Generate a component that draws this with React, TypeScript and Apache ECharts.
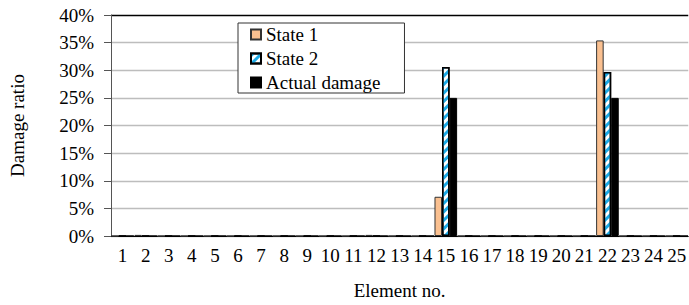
import React, { useEffect, useRef } from "react";
import * as echarts from "echarts";

const categories = ["1","2","3","4","5","6","7","8","9","10","11","12","13","14","15","16","17","18","19","20","21","22","23","24","25"];
const state1 = [0, 0.2, 0, 0, 0, 0, 0, 0, 0, 0, 0, 0.2, 0, 0, 7.1, 0, 0, 0, 0, 0, 0, 35.4, 0, 0, 0];
const state2 = [0, 0, 0, 0, 0, 0, 0, 0, 0, 0, 0, 0, 0, 0, 30.6, 0, 0, 0, 0, 0, 0, 29.7, 0, 0, 0];
const actual = [0, 0, 0, 0, 0, 0, 0, 0, 0, 0, 0, 0, 0, 0, 25, 0, 0, 0, 0, 0, 0, 25, 0, 0, 0];
const seriesNames = ["State 1", "State 2", "Actual damage"];
const yTicks = [0, 5, 10, 15, 20, 25, 30, 35, 40];

const FONT = "'Liberation Serif', 'Times New Roman', serif";

export default function App() {
  const ref = useRef<HTMLDivElement>(null);
  useEffect(() => {
    if (!ref.current) return;
    const chart = echarts.init(ref.current, null, { renderer: "svg" });
    const splitColors = yTicks.map((v, i) => (i === yTicks.length - 1 ? "#000" : "#BDBDBD"));
    chart.setOption({
      animation: false,
      backgroundColor: "#fff",
      textStyle: { fontFamily: FONT, color: "#000" },
      grid: { left: 104, top: 15, width: 587.5, height: 223.7, containLabel: false },
      legend: {
        orient: "vertical",
        left: 238,
        top: 23,
        padding: [2, 24, 1, 12],
        itemGap: 5,
        itemWidth: 10,
        itemHeight: 10,
        icon: "rect",
        borderColor: "#333",
        borderWidth: 1,
        backgroundColor: "#fff",
        textStyle: { fontFamily: FONT, fontSize: 19, color: "#000" },
        data: seriesNames,
      },
      xAxis: {
        type: "category",
        data: categories,
        name: "Element no.",
        nameLocation: "middle",
        nameGap: 45,
        nameTextStyle: { fontFamily: FONT, fontSize: 19, color: "#000" },
        axisLine: { lineStyle: { color: "#000", width: 1 } },
        axisTick: { alignWithLabel: true, length: 5, lineStyle: { color: "#000" } },
        axisLabel: { fontFamily: FONT, fontSize: 19, color: "#000", margin: 10, interval: 0 },
        splitLine: { show: false },
      },
      yAxis: {
        type: "value",
        min: 0,
        max: 40,
        interval: 5,
        name: "Damage ratio",
        nameLocation: "middle",
        nameGap: 84,
        nameRotate: 90,
        nameTextStyle: { fontFamily: FONT, fontSize: 19, color: "#000" },
        axisLine: { show: true, lineStyle: { color: "#555", width: 1 } },
        axisTick: { show: true, length: 7, lineStyle: { color: "#555" } },
        axisLabel: { fontFamily: FONT, fontSize: 19, color: "#000", margin: 17, formatter: "{value}%" },
        splitLine: { show: true, lineStyle: { color: splitColors, width: 1.3 } },
      },
      series: [
        {
          name: seriesNames[0],
          type: "bar",
          data: state1,
          barGap: "0%",
          barCategoryGap: "2%",
          itemStyle: { color: "#FAC090", borderColor: "#333", borderWidth: 1 },
        },
        {
          name: seriesNames[1],
          type: "bar",
          data: state2,
          barGap: "0%",
          barCategoryGap: "2%",
          itemStyle: {
            color: "#fff",
            borderColor: "#000",
            borderWidth: 1.5,
            decal: {
              symbol: "rect",
              symbolSize: 1,
              color: "#1CAAE6",
              dashArrayX: [1, 0],
              dashArrayY: [2.5, 2.5],
              rotation: -Math.PI / 4,
            },
          },
        },
        {
          name: seriesNames[2],
          type: "bar",
          data: actual,
          barGap: "0%",
          barCategoryGap: "2%",
          itemStyle: { color: "#000", borderColor: "#000", borderWidth: 1 },
        },
      ],
    });
    return () => chart.dispose();
  }, []);
  return (
    <div
      ref={ref}
      style={{ position: "absolute", left: 0, top: 0, width: 689, height: 305 }}
    />
  );
}
